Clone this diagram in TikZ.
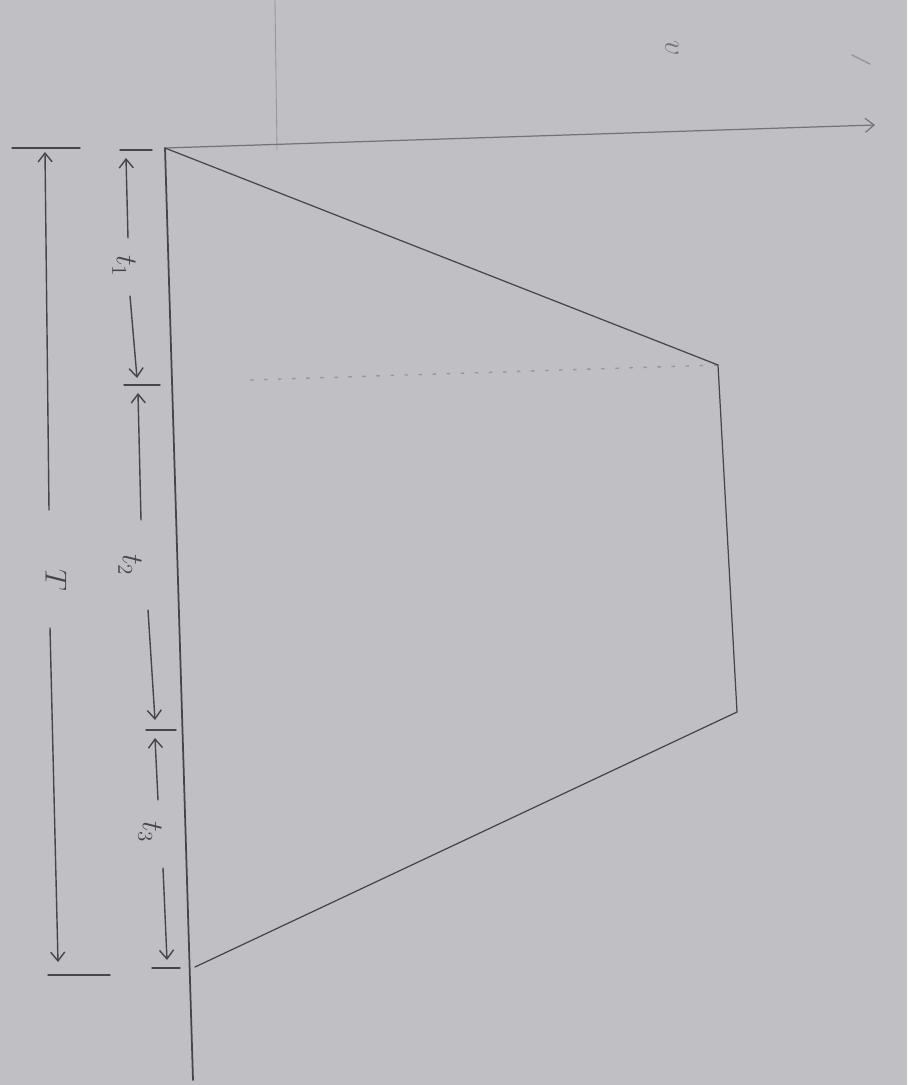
\documentclass[tikz,border=0pt]{standalone}
\usetikzlibrary{arrows.meta}
\definecolor{paper}{RGB}{192,192,196}
\definecolor{pencil}{RGB}{70,70,74}
\definecolor{faint}{RGB}{150,150,155}
\definecolor{light}{RGB}{115,115,120}
\tikzset{
  pen/.style={draw=pencil, line width=0.9pt, line cap=round},
  dimline/.style={pen, line width=0.8pt},
  tip/.style={-{Straight Barb[length=5pt,width=8pt]}},
  lbl/.style={text=pencil, rotate=-90, font=\LARGE, inner sep=1pt},
  dots/.style={draw=faint, line width=0.8pt, dash pattern=on 2pt off 6pt},
}
\begin{document}
\begin{tikzpicture}[x=0.02cm, y=-0.02cm]
\fill[paper] (0,0) rectangle (907,1085);
\useasboundingbox (0,0) rectangle (907,1085);
% corners
\coordinate (O) at (165,148);
\coordinate (A) at (718,365);
\coordinate (B) at (737,712);
\coordinate (C) at (195,967);
\coordinate (Aend) at (193,1080);
\coordinate (Vend) at (875,125);
% faint guide lines
\draw[dots] (250,380) -- (A);
\draw[draw=faint, line width=0.5pt] (275,0) -- (277,150);
% axes
\draw[pen, line width=1pt] (O) -- (Aend);
\draw[pen, draw=light, line width=0.7pt, tip] (O) -- (Vend);
\draw[draw=faint, line width=0.8pt, line cap=round] (852,55) -- (870,64);
\node[lbl, text=light] (v) at (672,48) {$v$};
% profile
\draw[pen, line width=0.7pt] (O) -- (A) -- (B) -- (C);
% t ticks
\coordinate (k0a) at (120,150); \coordinate (k0b) at (152,150);
\coordinate (k1a) at (124,385); \coordinate (k1b) at (160,385);
\coordinate (k2a) at (146,730); \coordinate (k2b) at (176,730);
\coordinate (k3a) at (152,968); \coordinate (k3b) at (180,968);
\draw[dimline] (k0a) -- (k0b);
\draw[dimline] (k1a) -- (k1b);
\draw[dimline] (k2a) -- (k2b);
\draw[dimline] (k3a) -- (k3b);
% t1
\node[lbl] (t1) at (124,266) {$t_1$};
\coordinate (t1u) at (128,238); \coordinate (t1ue) at (126,158);
\coordinate (t1d) at (130,296); \coordinate (t1de) at (137,378);
\draw[dimline, tip] (t1u) -- (t1ue);
\draw[dimline, tip] (t1d) -- (t1de);
% t2
\node[lbl] (t2) at (130,565) {$t_2$};
\coordinate (t2u) at (141,520); \coordinate (t2ue) at (138,393);
\coordinate (t2d) at (148,610); \coordinate (t2de) at (155,720);
\draw[dimline, tip] (t2u) -- (t2ue);
\draw[dimline, tip] (t2d) -- (t2de);
% t3
\node[lbl] (t3) at (150,832) {$t_3$};
\coordinate (t3u) at (158,800); \coordinate (t3ue) at (155,738);
\coordinate (t3d) at (163,868); \coordinate (t3de) at (167,960);
\draw[dimline, tip] (t3u) -- (t3ue);
\draw[dimline, tip] (t3d) -- (t3de);
% T
\coordinate (Ta) at (12,148); \coordinate (Tb) at (80,148);
\coordinate (Tc) at (48,975); \coordinate (Td) at (110,975);
\draw[dimline] (Ta) -- (Tb);
\draw[dimline] (Tc) -- (Td);
\node[lbl] (T) at (56,580) {$T$};
\coordinate (Tu) at (49,510); \coordinate (Tue) at (45,152);
\coordinate (Tdn) at (50,628); \coordinate (Tde) at (58,962);
\draw[dimline, tip] (Tu) -- (Tue);
\draw[dimline, tip] (Tdn) -- (Tde);
\end{tikzpicture}
\end{document}
